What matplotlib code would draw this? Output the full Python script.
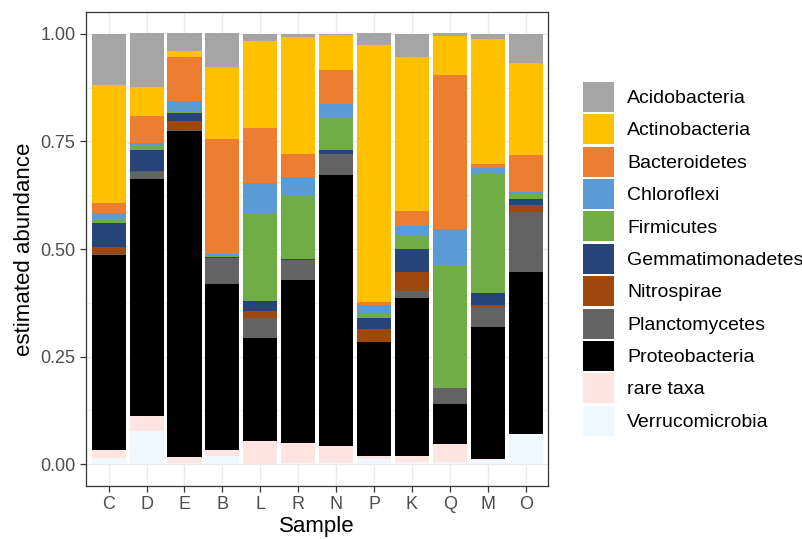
import numpy as np
import matplotlib
matplotlib.use("Agg")
import matplotlib.pyplot as plt

plt.rcParams['font.family'] = ['Liberation Sans', 'DejaVu Sans']

samples = ['C', 'D', 'E', 'B', 'L', 'R', 'N', 'P', 'K', 'Q', 'M', 'O']

# values per sample, same order as samples
verrucomicrobia  = [0.015, 0.077, 0.002, 0.018, 0.001, 0.003, 0.003, 0.011, 0.005, 0.004, 0.009, 0.069]
rare_taxa        = [0.018, 0.035, 0.015, 0.014, 0.053, 0.046, 0.040, 0.008, 0.014, 0.042, 0.004, 0.000]
proteobacteria   = [0.453, 0.551, 0.757, 0.386, 0.2385, 0.379, 0.629, 0.264, 0.368, 0.093, 0.306, 0.378]
planctomycetes   = [0.002, 0.017, 0.002, 0.062, 0.048, 0.046, 0.050, 0.002, 0.015, 0.037, 0.046, 0.139]
nitrospirae      = [0.017, 0.001, 0.021, 0.000, 0.015, 0.000, 0.000, 0.030, 0.045, 0.001, 0.005, 0.016]
gemmatimonadetes = [0.055, 0.049, 0.018, 0.002, 0.024, 0.003, 0.007, 0.025, 0.052, 0.001, 0.027, 0.014]
firmicutes       = [0.007, 0.012, 0.006, 0.004, 0.204, 0.148, 0.077, 0.008, 0.034, 0.284, 0.277, 0.011]
chloroflexi      = [0.017, 0.005, 0.024, 0.002, 0.070, 0.042, 0.031, 0.022, 0.020, 0.084, 0.014, 0.006]
bacteroidetes    = [0.022, 0.063, 0.101, 0.268, 0.127, 0.053, 0.079, 0.007, 0.035, 0.359, 0.010, 0.086]
actinobacteria   = [0.275, 0.066, 0.014, 0.167, 0.203, 0.273, 0.082, 0.597, 0.358, 0.089, 0.291, 0.214]
acidobacteria    = [0.119, 0.125, 0.042, 0.080, 0.017, 0.006, 0.002, 0.027, 0.054, 0.008, 0.011, 0.067]

# bottom -> top stacking order
layers = [
    ('Verrucomicrobia', verrucomicrobia, '#F0F8FF'),
    ('rare taxa', rare_taxa, '#FFE4E1'),
    ('Proteobacteria', proteobacteria, '#000000'),
    ('Planctomycetes', planctomycetes, '#636363'),
    ('Nitrospirae', nitrospirae, '#9E480E'),
    ('Gemmatimonadetes', gemmatimonadetes, '#264478'),
    ('Firmicutes', firmicutes, '#70AD47'),
    ('Chloroflexi', chloroflexi, '#5B9BD5'),
    ('Bacteroidetes', bacteroidetes, '#ED7D31'),
    ('Actinobacteria', actinobacteria, '#FFC000'),
    ('Acidobacteria', acidobacteria, '#A5A5A5'),
]

fig = plt.figure(figsize=(8.03, 5.39), dpi=100)
ax = fig.add_axes([0.107, 0.099, 0.576, 0.878])

x = np.arange(len(samples))
bottom = np.zeros(len(samples))
handles = {}
for name, vals, col in layers:
    vals = np.array(vals)
    b = ax.bar(x, vals, width=0.9, bottom=bottom, color=col, linewidth=0, zorder=3)
    handles[name] = b
    bottom += vals

ax.set_xlim(-0.6, len(samples) - 0.4)
ax.set_ylim(-0.05, 1.05)
ax.set_xticks(x)
ax.set_xticklabels(samples)
ax.set_yticks([0, 0.25, 0.5, 0.75, 1.0])
ax.set_yticklabels(['0.00', '0.25', '0.50', '0.75', '1.00'])
ax.set_yticks([0.125, 0.375, 0.625, 0.875], minor=True)

ax.grid(True, which='major', color='#EBEBEB', linewidth=1.0, zorder=0)
ax.grid(True, which='minor', axis='y', color='#EBEBEB', linewidth=0.5, zorder=0)
ax.set_axisbelow(True)
for s in ax.spines.values():
    s.set_color('#333333')
    s.set_linewidth(0.9)

ax.tick_params(axis='both', which='major', labelsize=13, labelcolor='#4D4D4D',
               color='#333333', length=4.5, width=0.9, pad=3)
ax.tick_params(axis='both', which='minor', length=0)

ax.set_xlabel('Sample', fontsize=16, labelpad=2)
ax.set_ylabel('estimated abundance', fontsize=16, labelpad=4)

# legend order: alphabetical like ggplot
leg_order = ['Acidobacteria', 'Actinobacteria', 'Bacteroidetes', 'Chloroflexi',
             'Firmicutes', 'Gemmatimonadetes', 'Nitrospirae', 'Planctomycetes',
             'Proteobacteria', 'rare taxa', 'Verrucomicrobia']
fig.legend([handles[n] for n in leg_order], leg_order,
           loc='upper left', bbox_to_anchor=(0.726, 0.848),
           frameon=False, fontsize=14, handlelength=1.6, handleheight=2.0,
           labelspacing=0.12, handletextpad=0.67, borderpad=0, borderaxespad=0)

fig.savefig('out.png', dpi=100)
